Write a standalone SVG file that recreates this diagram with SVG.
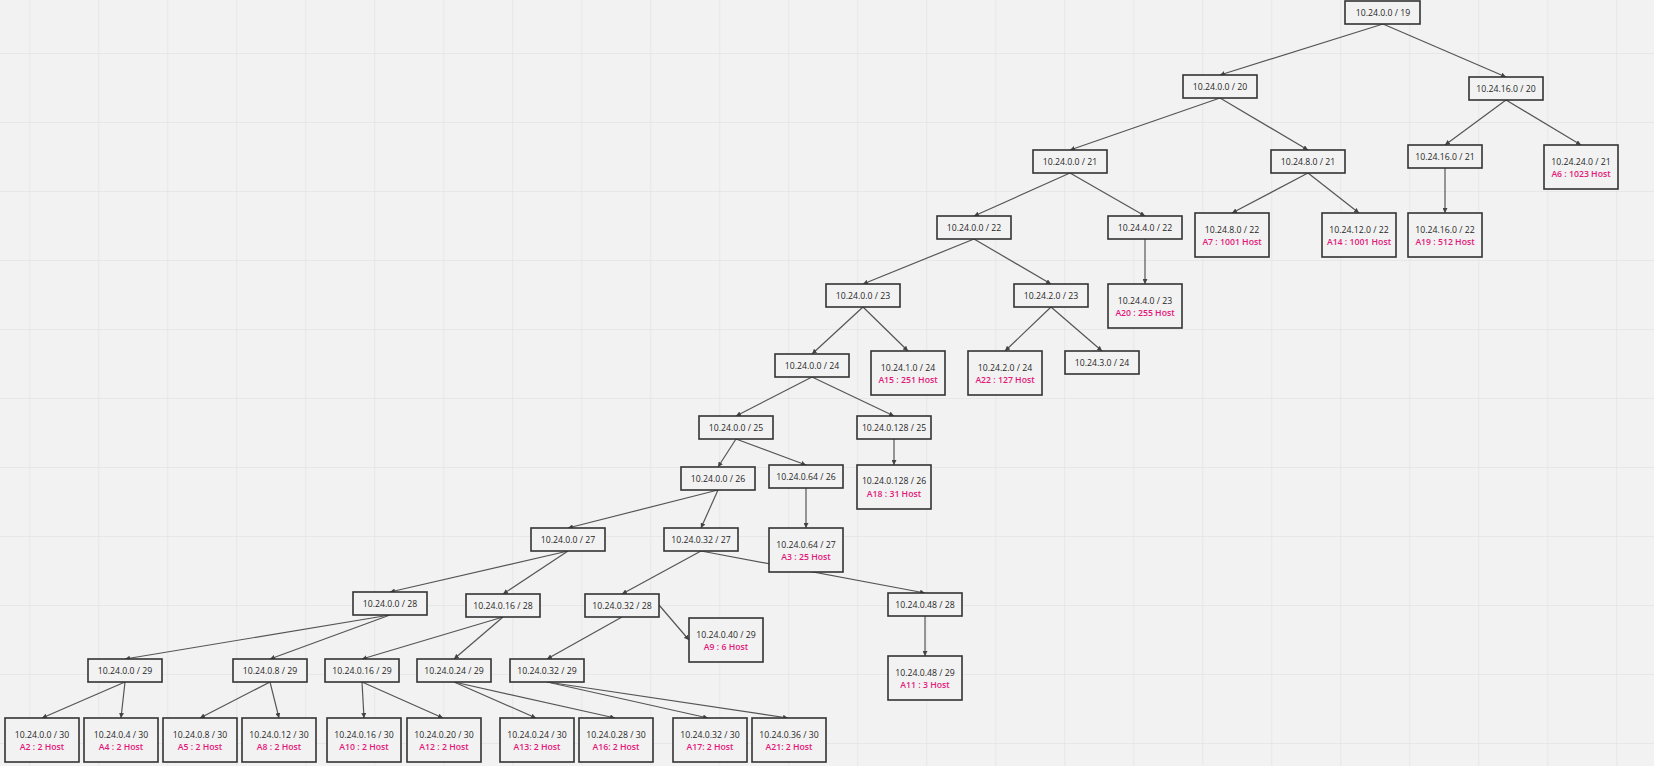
<svg xmlns="http://www.w3.org/2000/svg" width="1654" height="766" viewBox="0 0 1654 766">
<defs>
<pattern id="grid" x="29.3" y="53" width="69" height="69" patternUnits="userSpaceOnUse">
<path d="M0,0 H69 M0,0 V69" fill="none" stroke="#e4e4e4" stroke-width="1.5"/>
</pattern>
<marker id="arr" viewBox="0 0 6 6" refX="6" refY="3" markerWidth="5" markerHeight="5" markerUnits="userSpaceOnUse" orient="auto">
<path d="M0,0 L6,3 L0,6 z" fill="#444"/>
</marker>
<style>
.n rect{fill:#f2f2f2;stroke:#333;stroke-width:1.6}
.n text{font-family:"Open Sans","Noto Sans","DejaVu Sans",sans-serif;font-size:8.7px;fill:#262626;text-anchor:middle}
.n text.h{fill:#e2187a;font-weight:600}
#edges line{stroke:#555;stroke-width:1.2;marker-end:url(#arr)}
</style>
</defs>
<rect width="1654" height="766" fill="#f2f2f2"/>
<rect width="1654" height="766" fill="url(#grid)"/>

<g id="edges">
<line x1="1383" y1="24" x2="1220" y2="75"/>
<line x1="1383" y1="24" x2="1506" y2="77"/>
<line x1="1220" y1="98" x2="1070" y2="150"/>
<line x1="1220" y1="98" x2="1308" y2="150"/>
<line x1="1506" y1="100" x2="1445" y2="145"/>
<line x1="1506" y1="100" x2="1581" y2="145"/>
<line x1="1070" y1="173" x2="974" y2="216"/>
<line x1="1070" y1="173" x2="1145" y2="216"/>
<line x1="1308" y1="173" x2="1232" y2="213"/>
<line x1="1308" y1="173" x2="1359" y2="213"/>
<line x1="1445" y1="168" x2="1445" y2="213"/>
<line x1="974" y1="239" x2="863" y2="284"/>
<line x1="974" y1="239" x2="1051" y2="284"/>
<line x1="1145" y1="239" x2="1145" y2="284"/>
<line x1="863" y1="307" x2="812" y2="354"/>
<line x1="863" y1="307" x2="908" y2="351"/>
<line x1="1051" y1="307" x2="1005" y2="351"/>
<line x1="1051" y1="307" x2="1102" y2="351"/>
<line x1="812" y1="377" x2="736" y2="416"/>
<line x1="812" y1="377" x2="894" y2="416"/>
<line x1="736" y1="439" x2="718" y2="467"/>
<line x1="736" y1="439" x2="806" y2="465"/>
<line x1="894" y1="439" x2="894" y2="465"/>
<line x1="718" y1="490" x2="568" y2="528"/>
<line x1="718" y1="490" x2="701" y2="528"/>
<line x1="806" y1="488" x2="806" y2="528"/>
<line x1="568" y1="551" x2="390" y2="592"/>
<line x1="568" y1="551" x2="503" y2="594"/>
<line x1="701" y1="551" x2="622" y2="594"/>
<line x1="701" y1="551" x2="925" y2="593"/>
<line x1="390" y1="615" x2="125" y2="659"/>
<line x1="390" y1="615" x2="270" y2="659"/>
<line x1="503" y1="617" x2="362" y2="659"/>
<line x1="503" y1="617" x2="454" y2="659"/>
<line x1="622" y1="617" x2="547" y2="659"/>
<line x1="659" y1="605" x2="689" y2="640"/>
<line x1="925" y1="616" x2="925" y2="656"/>
<line x1="125" y1="682" x2="42" y2="718"/>
<line x1="125" y1="682" x2="121" y2="718"/>
<line x1="270" y1="682" x2="200" y2="718"/>
<line x1="270" y1="682" x2="279" y2="718"/>
<line x1="362" y1="682" x2="364" y2="718"/>
<line x1="362" y1="682" x2="443" y2="718"/>
<line x1="454" y1="682" x2="536" y2="718"/>
<line x1="454" y1="682" x2="615" y2="718"/>
<line x1="547" y1="682" x2="708" y2="718"/>
<line x1="547" y1="682" x2="788" y2="718"/>
</g>

<g id="n19" class="n"><rect x="1345" y="1" width="75" height="23"/><text x="1383" y="15.5">10.24.0.0 / 19</text></g>
<g id="n20a" class="n"><rect x="1183" y="75" width="74" height="23"/><text x="1220" y="89.5">10.24.0.0 / 20</text></g>
<g id="n20b" class="n"><rect x="1469" y="77" width="74" height="23"/><text x="1506" y="91.5">10.24.16.0 / 20</text></g>
<g id="n21a" class="n"><rect x="1033" y="150" width="74" height="23"/><text x="1070" y="164.5">10.24.0.0 / 21</text></g>
<g id="n21b" class="n"><rect x="1271" y="150" width="74" height="23"/><text x="1308" y="164.5">10.24.8.0 / 21</text></g>
<g id="n21c" class="n"><rect x="1408" y="145" width="74" height="23"/><text x="1445" y="159.5">10.24.16.0 / 21</text></g>
<g id="n21d" class="n"><rect x="1544" y="145" width="74" height="44"/><text x="1581" y="164.5">10.24.24.0 / 21</text><text class="h" x="1581" y="176.5">A6 : 1023 Host</text></g>
<g id="n22a" class="n"><rect x="937" y="216" width="74" height="23"/><text x="974" y="230.5">10.24.0.0 / 22</text></g>
<g id="n22b" class="n"><rect x="1108" y="216" width="74" height="23"/><text x="1145" y="230.5">10.24.4.0 / 22</text></g>
<g id="n22c" class="n"><rect x="1195" y="213" width="74" height="44"/><text x="1232" y="232.5">10.24.8.0 / 22</text><text class="h" x="1232" y="244.5">A7 : 1001 Host</text></g>
<g id="n22d" class="n"><rect x="1322" y="213" width="74" height="44"/><text x="1359" y="232.5">10.24.12.0 / 22</text><text class="h" x="1359" y="244.5">A14 : 1001 Host</text></g>
<g id="n22e" class="n"><rect x="1408" y="213" width="74" height="44"/><text x="1445" y="232.5">10.24.16.0 / 22</text><text class="h" x="1445" y="244.5">A19 : 512 Host</text></g>
<g id="n23a" class="n"><rect x="826" y="284" width="74" height="23"/><text x="863" y="298.5">10.24.0.0 / 23</text></g>
<g id="n23b" class="n"><rect x="1014" y="284" width="74" height="23"/><text x="1051" y="298.5">10.24.2.0 / 23</text></g>
<g id="n23c" class="n"><rect x="1108" y="284" width="74" height="44"/><text x="1145" y="303.5">10.24.4.0 / 23</text><text class="h" x="1145" y="315.5">A20 : 255 Host</text></g>
<g id="n24a" class="n"><rect x="775" y="354" width="74" height="23"/><text x="812" y="368.5">10.24.0.0 / 24</text></g>
<g id="n24b" class="n"><rect x="871" y="351" width="74" height="44"/><text x="908" y="370.5">10.24.1.0 / 24</text><text class="h" x="908" y="382.5">A15 : 251 Host</text></g>
<g id="n24c" class="n"><rect x="968" y="351" width="74" height="44"/><text x="1005" y="370.5">10.24.2.0 / 24</text><text class="h" x="1005" y="382.5">A22 : 127 Host</text></g>
<g id="n24d" class="n"><rect x="1065" y="351" width="74" height="23"/><text x="1102" y="365.5">10.24.3.0 / 24</text></g>
<g id="n25a" class="n"><rect x="699" y="416" width="74" height="23"/><text x="736" y="430.5">10.24.0.0 / 25</text></g>
<g id="n25b" class="n"><rect x="857" y="416" width="74" height="23"/><text x="894" y="430.5">10.24.0.128 / 25</text></g>
<g id="n26a" class="n"><rect x="681" y="467" width="74" height="23"/><text x="718" y="481.5">10.24.0.0 / 26</text></g>
<g id="n26b" class="n"><rect x="769" y="465" width="74" height="23"/><text x="806" y="479.5">10.24.0.64 / 26</text></g>
<g id="n26c" class="n"><rect x="857" y="465" width="74" height="44"/><text x="894" y="483.5">10.24.0.128 / 26</text><text class="h" x="894" y="496.5">A18 : 31 Host</text></g>
<g id="n27a" class="n"><rect x="531" y="528" width="74" height="23"/><text x="568" y="542.5">10.24.0.0 / 27</text></g>
<g id="n27b" class="n"><rect x="664" y="528" width="74" height="23"/><text x="701" y="542.5">10.24.0.32 / 27</text></g>
<g id="n27c" class="n"><rect x="769" y="528" width="74" height="44"/><text x="806" y="547.5">10.24.0.64 / 27</text><text class="h" x="806" y="559.5">A3 : 25 Host</text></g>
<g id="n28a" class="n"><rect x="353" y="592" width="74" height="23"/><text x="390" y="606.5">10.24.0.0 / 28</text></g>
<g id="n28b" class="n"><rect x="466" y="594" width="74" height="23"/><text x="503" y="608.5">10.24.0.16 / 28</text></g>
<g id="n28c" class="n"><rect x="585" y="594" width="74" height="23"/><text x="622" y="608.5">10.24.0.32 / 28</text></g>
<g id="n28d" class="n"><rect x="888" y="593" width="74" height="23"/><text x="925" y="607.5">10.24.0.48 / 28</text></g>
<g id="n29a" class="n"><rect x="88" y="659" width="74" height="23"/><text x="125" y="673.5">10.24.0.0 / 29</text></g>
<g id="n29b" class="n"><rect x="233" y="659" width="74" height="23"/><text x="270" y="673.5">10.24.0.8 / 29</text></g>
<g id="n29c" class="n"><rect x="325" y="659" width="74" height="23"/><text x="362" y="673.5">10.24.0.16 / 29</text></g>
<g id="n29d" class="n"><rect x="417" y="659" width="74" height="23"/><text x="454" y="673.5">10.24.0.24 / 29</text></g>
<g id="n29e" class="n"><rect x="510" y="659" width="74" height="23"/><text x="547" y="673.5">10.24.0.32 / 29</text></g>
<g id="n29f" class="n"><rect x="689" y="618" width="74" height="44"/><text x="726" y="637.5">10.24.0.40 / 29</text><text class="h" x="726" y="649.5">A9 : 6 Host</text></g>
<g id="n29g" class="n"><rect x="888" y="656" width="74" height="44"/><text x="925" y="675.5">10.24.0.48 / 29</text><text class="h" x="925" y="687.5">A11 : 3 Host</text></g>
<g id="n30a" class="n"><rect x="5" y="718" width="74" height="44"/><text x="42" y="737.5">10.24.0.0 / 30</text><text class="h" x="42" y="749.5">A2 : 2 Host</text></g>
<g id="n30b" class="n"><rect x="84" y="718" width="74" height="44"/><text x="121" y="737.5">10.24.0.4 / 30</text><text class="h" x="121" y="749.5">A4 : 2 Host</text></g>
<g id="n30c" class="n"><rect x="163" y="718" width="74" height="44"/><text x="200" y="737.5">10.24.0.8 / 30</text><text class="h" x="200" y="749.5">A5 : 2 Host</text></g>
<g id="n30d" class="n"><rect x="242" y="718" width="74" height="44"/><text x="279" y="737.5">10.24.0.12 / 30</text><text class="h" x="279" y="749.5">A8 : 2 Host</text></g>
<g id="n30e" class="n"><rect x="327" y="718" width="74" height="44"/><text x="364" y="737.5">10.24.0.16 / 30</text><text class="h" x="364" y="749.5">A10 : 2 Host</text></g>
<g id="n30f" class="n"><rect x="407" y="718" width="74" height="44"/><text x="444" y="737.5">10.24.0.20 / 30</text><text class="h" x="444" y="749.5">A12 : 2 Host</text></g>
<g id="n30g" class="n"><rect x="500" y="718" width="74" height="44"/><text x="537" y="737.5">10.24.0.24 / 30</text><text class="h" x="537" y="749.5">A13: 2 Host</text></g>
<g id="n30h" class="n"><rect x="579" y="718" width="74" height="44"/><text x="616" y="737.5">10.24.0.28 / 30</text><text class="h" x="616" y="749.5">A16: 2 Host</text></g>
<g id="n30i" class="n"><rect x="673" y="718" width="74" height="44"/><text x="710" y="737.5">10.24.0.32 / 30</text><text class="h" x="710" y="749.5">A17: 2 Host</text></g>
<g id="n30j" class="n"><rect x="752" y="718" width="74" height="44"/><text x="789" y="737.5">10.24.0.36 / 30</text><text class="h" x="789" y="749.5">A21: 2 Host</text></g>
</svg>
